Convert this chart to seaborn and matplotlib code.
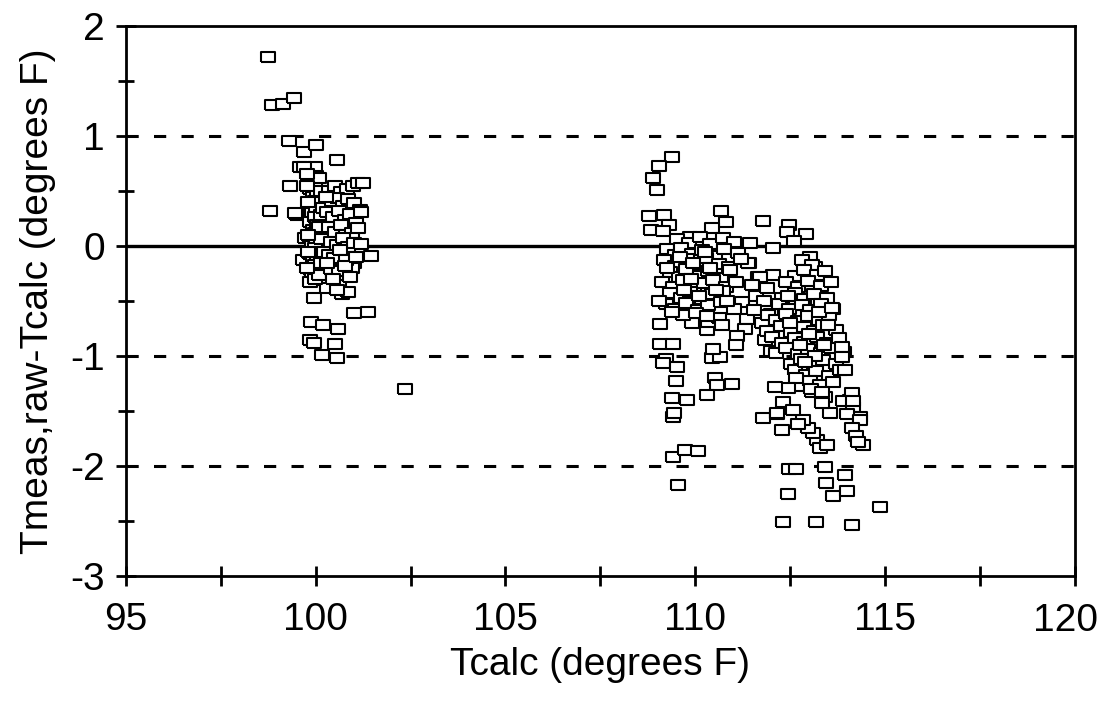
import matplotlib
matplotlib.use("Agg")
import matplotlib.pyplot as plt
from matplotlib.ticker import MultipleLocator, FuncFormatter
from matplotlib.transforms import ScaledTranslation
import seaborn as sns
import pandas as pd

# ---- data: (Tcalc, Tmeas,raw - Tcalc) ----
left_outliers = [(98.74, 1.72), (98.85, 1.28), (99.14, 1.29), (99.43, 1.35), (99.30, 0.96),
                 (99.69, 0.86), (100.00, 0.92), (100.56, 0.78), (99.58, 0.72), (99.32, 0.55),
                 (98.80, 0.32), (99.50, 0.28), (99.45, 0.30), (99.72, 0.07), (99.66, -0.13),
                 (101.45, -0.09), (101.00, -0.15), (100.95, -0.20), (99.90, -0.31), (99.95, -0.47),
                 (100.30, -0.38), (100.62, -0.35), (100.70, -0.44), (100.85, -0.42), (101.00, -0.61),
                 (101.37, -0.60), (99.87, -0.69), (100.20, -0.72), (100.60, -0.75), (99.85, -0.85),
                 (99.95, -0.88), (100.50, -0.89), (100.16, -0.99), (100.56, -1.02), (102.35, -1.30)]

left_column = [(99.84, 0.68), (99.90, 0.60), (99.86, 0.52), (99.92, 0.45), (99.85, 0.38),
               (99.90, 0.30), (99.84, 0.22), (99.92, 0.15), (99.86, 0.08), (99.90, 0.00),
               (99.84, -0.07), (99.92, -0.14), (99.86, -0.21), (99.90, -0.28), (99.85, -0.33),
               (99.97, 0.72), (100.02, 0.64), (99.98, 0.56), (100.04, 0.48), (99.97, 0.41),
               (100.02, 0.34), (99.98, 0.26), (100.04, 0.19), (99.97, 0.12), (100.02, 0.05),
               (99.98, -0.02), (100.04, -0.10), (99.97, -0.17), (100.02, -0.24), (99.98, -0.30),
               (100.10, 0.62), (100.14, 0.50), (100.09, 0.40), (100.15, 0.28), (100.10, 0.17),
               (100.14, 0.06), (100.09, -0.05), (100.15, -0.15), (100.10, -0.26),
               (99.78, 0.55), (99.80, 0.10), (99.78, -0.20), (100.20, 0.35), (100.22, -0.05),
               (99.70, 0.72), (99.76, 0.66), (99.80, 0.40), (99.79, -0.05)]

left_spread = [(100.35, 0.50), (100.52, 0.55), (100.66, 0.49), (100.83, 0.52), (100.97, 0.55),
               (101.12, 0.57), (101.25, 0.57), (100.42, 0.41), (100.57, 0.44), (100.71, 0.36),
               (100.86, 0.43), (101.02, 0.39), (101.16, 0.33), (100.29, 0.31), (100.46, 0.26),
               (100.61, 0.32), (100.76, 0.24), (100.91, 0.29), (101.06, 0.21), (101.20, 0.31),
               (100.36, 0.17), (100.51, 0.13), (100.67, 0.19), (100.81, 0.10), (100.96, 0.12),
               (101.11, 0.16), (100.41, 0.04), (100.56, 0.01), (100.72, 0.07), (100.86, -0.01),
               (101.02, 0.03), (101.19, 0.02), (100.34, -0.08), (100.49, -0.11), (100.64, -0.04),
               (100.79, -0.13), (100.41, -0.21), (100.61, -0.23), (100.76, -0.18), (100.46, -0.30),
               (100.55, -0.40), (100.91, -0.28), (101.05, -0.10), (100.28, 0.45), (100.30, -0.15)]

right_outliers = [(109.38, 0.81), (109.04, 0.73), (108.88, 0.62), (108.99, 0.51), (108.78, 0.27),
                  (109.17, 0.28), (109.30, 0.19), (108.83, 0.15), (109.15, 0.14), (110.67, 0.32),
                  (110.80, 0.22), (110.44, 0.16), (111.78, 0.23), (112.47, 0.19), (112.42, 0.13),
                  (109.86, 0.08), (111.44, 0.03), (111.41, -0.15), (111.65, -0.28), (112.05, -0.26),
                  (109.07, -0.71), (109.07, -0.89), (109.41, -0.89), (109.91, -0.70), (110.30, -0.76),
                  (110.35, -0.69), (110.62, -0.65), (110.70, -0.72), (111.23, -0.51), (111.36, -0.66),
                  (111.31, -0.75), (111.10, -0.82), (111.07, -0.90), (109.22, -1.03), (109.15, -1.06),
                  (109.52, -1.10), (110.44, -1.02), (110.65, -1.01), (110.46, -0.94), (109.49, -1.23),
                  (110.52, -1.20), (110.57, -1.26), (110.96, -1.25), (110.30, -1.35), (109.38, -1.38),
                  (109.78, -1.40), (109.41, -1.55), (109.45, -1.52), (109.41, -1.92), (109.73, -1.85),
                  (110.07, -1.86), (109.54, -2.17), (111.78, -1.56), (112.15, -1.53),
                  (112.91, 0.11), (112.60, 0.05), (112.04, -0.02), (113.02, -0.10), (113.15, -0.19),
                  (111.70, -0.28), (111.50, -0.35), (111.60, -0.45), (111.80, -0.50), (111.90, -0.38),
                  (112.00, -0.62), (111.75, -0.70), (111.55, -0.58), (111.39, -0.15), (111.85, -0.85),
                  (112.00, -0.95)]

right_blob_a = [(109.52, 0.06), (109.83, 0.03), (110.12, 0.08), (110.38, 0.02), (110.72, 0.07),
                (111.02, 0.04), (109.27, -0.03), (109.48, -0.08), (109.63, -0.02), (109.92, -0.07),
                (110.18, -0.04), (110.53, -0.09), (110.77, -0.03), (111.12, -0.06), (109.18, -0.13),
                (109.47, -0.18), (109.78, -0.12), (110.03, -0.17), (110.28, -0.11), (110.62, -0.16),
                (110.88, -0.19), (111.22, -0.12), (109.33, -0.24), (109.58, -0.28), (109.77, -0.21),
                (110.13, -0.27), (110.33, -0.23), (110.67, -0.29), (110.93, -0.22), (109.12, -0.33),
                (109.42, -0.37), (109.68, -0.31), (109.97, -0.38), (110.22, -0.34), (110.48, -0.31),
                (110.82, -0.37), (111.08, -0.33), (109.33, -0.43), (109.62, -0.47), (109.87, -0.42),
                (110.17, -0.48), (110.43, -0.44), (110.73, -0.41), (109.22, -0.53), (109.48, -0.57),
                (109.77, -0.52), (110.07, -0.58), (110.33, -0.54), (110.68, -0.51), (111.02, -0.57),
                (109.68, -0.63), (110.02, -0.61), (110.32, -0.64), (109.05, -0.50), (109.60, -0.10),
                (109.90, -0.30), (110.10, -0.45), (110.40, -0.20), (110.55, -0.40), (109.40, -0.60),
                (110.85, -0.50), (109.95, -0.15), (110.25, -0.05), (109.70, -0.40), (109.25, -0.20)]

right_blob_b = [(112.82, -0.13), (113.08, -0.17), (112.62, -0.27), (112.88, -0.22), (113.22, -0.26),
                (113.43, -0.23), (112.38, -0.33), (112.72, -0.37), (112.98, -0.32), (113.32, -0.36),
                (113.58, -0.33), (112.28, -0.47), (112.62, -0.43), (112.87, -0.48), (113.13, -0.44),
                (113.47, -0.47), (112.22, -0.53), (112.48, -0.57), (112.82, -0.54), (113.03, -0.58),
                (113.32, -0.53), (113.62, -0.57), (111.93, -0.63), (112.12, -0.67), (112.38, -0.62),
                (112.72, -0.68), (112.98, -0.64), (113.27, -0.67), (113.52, -0.63), (111.88, -0.77),
                (112.27, -0.73), (112.53, -0.78), (112.87, -0.74), (113.12, -0.77), (113.38, -0.72),
                (113.72, -0.76), (112.02, -0.83), (112.28, -0.88), (112.62, -0.84), (112.88, -0.87),
                (113.22, -0.83), (113.48, -0.88), (113.78, -0.84), (112.12, -0.97), (112.38, -0.93),
                (112.72, -0.98), (112.98, -0.94), (113.32, -0.97), (113.58, -0.93), (113.92, -0.96),
                (112.52, -1.07), (112.78, -1.03), (113.12, -1.08), (113.38, -1.04), (113.72, -1.07),
                (112.62, -1.13), (112.92, -1.17), (113.18, -1.14), (113.52, -1.18), (113.82, -1.13),
                (112.68, -1.27), (113.02, -1.23), (113.28, -1.26), (113.62, -1.24), (113.08, -1.33),
                (113.42, -1.37), (112.50, -0.70), (112.75, -0.90), (113.00, -0.80), (113.15, -1.00),
                (112.90, -1.05), (113.25, -0.60), (112.45, -0.45), (113.40, -0.90), (112.65, -1.20),
                (113.05, -1.30), (113.60, -0.56), (113.50, -0.72), (113.86, -0.92), (113.88, -1.01),
                (113.94, -1.13)]

right_tail = [(114.07, -1.40), (114.15, -1.46), (114.34, -1.55), (114.12, -1.34), (113.90, -1.41),
              (114.15, -1.41), (114.00, -1.53), (114.34, -1.58), (114.12, -1.65), (114.23, -1.73),
              (114.42, -1.81), (114.30, -1.78), (113.55, -1.52), (113.35, -1.43), (113.33, -1.33),
              (113.20, -1.76), (113.28, -1.84), (113.47, -1.81), (113.10, -1.70), (112.97, -1.65),
              (112.84, -1.58), (112.70, -1.62), (112.28, -1.67), (112.15, -1.52), (112.31, -1.42),
              (112.44, -1.29), (112.10, -1.28), (112.57, -1.49), (112.47, -2.03), (112.65, -2.03),
              (113.41, -2.01), (113.94, -2.08), (113.44, -2.15), (113.62, -2.27), (114.00, -2.23),
              (112.44, -2.25), (114.86, -2.37), (112.31, -2.51), (113.18, -2.51), (114.12, -2.54)]

ref_solid = [0]
ref_dashed = [1, -1, -2]
x_label = "Tcalc (degrees F)"
y_label = "Tmeas,raw-Tcalc (degrees F)"
x_last_label = "120"

points = left_outliers + left_column + left_spread + right_outliers + right_blob_a + right_blob_b + right_tail
df = pd.DataFrame(points, columns=["Tcalc", "diff"])

sns.set_theme(style="white")
plt.rcParams["font.family"] = ["Liberation Sans", "DejaVu Sans"]
plt.rcParams["axes.unicode_minus"] = False

fig = plt.figure(figsize=(11, 7.16), dpi=100)
ax = fig.add_axes([0.1145, 0.1955, 0.8625, 0.768])

for y0 in ref_solid:
    ax.axhline(y0, color="black", lw=2.4, zorder=1)
for y0 in ref_dashed:
    ax.axhline(y0, color="black", lw=2.2, ls=(0, (4, 5)), zorder=1)

rect = [(-1.3, -1.0), (1.3, -1.0), (1.3, 1.0), (-1.3, 1.0), (-1.3, -1.0)]
sns.scatterplot(data=df, x="Tcalc", y="diff", ax=ax, marker=rect, s=90,
                facecolors="white", edgecolor="black", linewidth=1.5, zorder=3)

ax.set_xlim(95, 120)
ax.set_ylim(-3, 2)
ax.xaxis.set_major_locator(MultipleLocator(5))
ax.xaxis.set_minor_locator(MultipleLocator(2.5))
ax.yaxis.set_major_locator(MultipleLocator(1))
ax.yaxis.set_minor_locator(MultipleLocator(0.5))
# the "120" label is placed separately so it stays inside the canvas
ax.xaxis.set_major_formatter(FuncFormatter(lambda v, p: "" if v >= 119.5 else f"{v:g}"))
ax.tick_params(which="both", direction="inout", length=14, width=2, color="black",
               labelsize=28, labelcolor="black", bottom=True, left=True)
ax.tick_params(axis="x", which="major", pad=12)
ax.tick_params(axis="y", which="major", pad=8)
ax.tick_params(axis="y", which="minor", length=12)
for sp in ax.spines.values():
    sp.set_color("black")
    sp.set_linewidth(2)
ax.set_xlabel(x_label, fontsize=28, color="black", labelpad=6)
ax.set_ylabel(y_label, fontsize=28, color="black", labelpad=10)
ax.grid(False)

off = ScaledTranslation(0.235, -0.265, fig.dpi_scale_trans)
ax.text(1.0, 0.0, x_last_label, transform=ax.transAxes + off, ha="right", va="top",
        fontsize=28, color="black")

fig.savefig("out.png", dpi=100, facecolor="white")
